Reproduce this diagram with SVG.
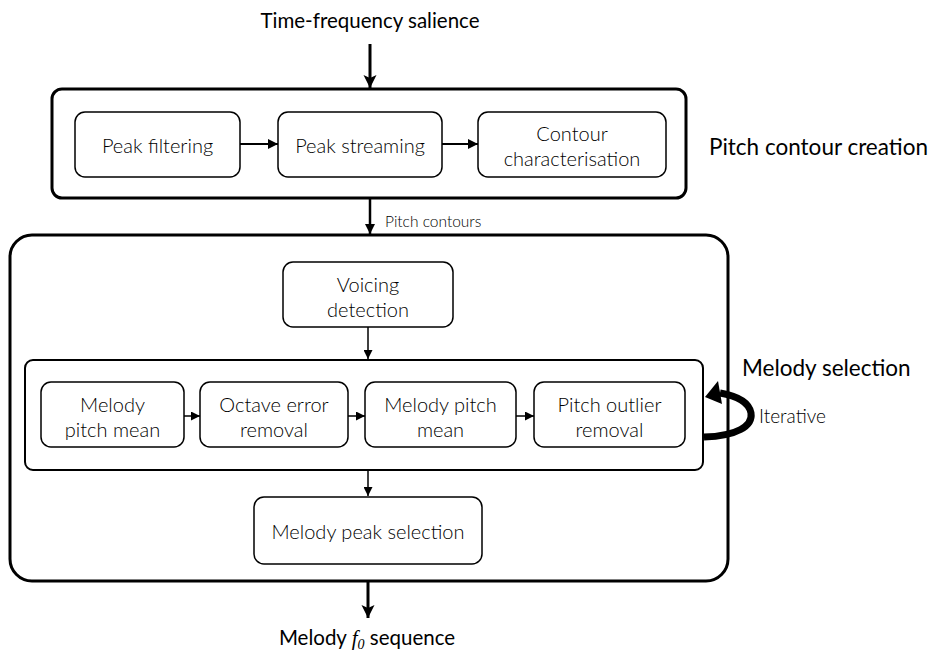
<svg xmlns="http://www.w3.org/2000/svg" width="944" height="651" viewBox="0 0 944 651">
<style>
.container{fill:#fff;stroke:#000;stroke-width:3}
.inner{fill:#fff;stroke:#000;stroke-width:2}
.box{fill:#fff;stroke:#000;stroke-width:1.5}
.t{font-family:Lato,"Open Sans","Liberation Sans",sans-serif;font-weight:300;font-size:20px;fill:#000;text-anchor:middle}
.h{font-family:Lato,"Open Sans","Liberation Sans",sans-serif;font-weight:400;font-size:22.5px;fill:#000}
.hm{font-family:Lato,"Open Sans","Liberation Sans",sans-serif;font-weight:400;font-size:20.5px;fill:#000;text-anchor:middle}
.small{font-family:Lato,"Open Sans","Liberation Sans",sans-serif;font-weight:300;font-size:15.5px;fill:#000}
.c{fill:none;stroke:#000}
</style>
<defs>
<marker id="ah" markerUnits="userSpaceOnUse" markerWidth="10" markerHeight="10" refX="10" refY="5" orient="auto">
<path d="M0,0 L10,5 L0,10 z" fill="#000"/>
</marker>
<marker id="ahs" markerUnits="userSpaceOnUse" markerWidth="9" markerHeight="9" refX="9" refY="4.5" orient="auto">
<path d="M0,0 L9,4.5 L0,9 z" fill="#000"/>
</marker>
<marker id="ahb" markerUnits="userSpaceOnUse" markerWidth="14" markerHeight="14" refX="13" refY="7" orient="auto">
<path d="M0,0.5 L13,7 L0,13.5 L3,7 z" fill="#000"/>
</marker>
</defs>

<g id="label-input"><text class="hm" x="370" y="28">Time-frequency salience</text></g>

<g id="pitch-contour-creation">
<rect class="container" x="52" y="89" width="634" height="109" rx="10"/>
<text class="h" x="709" y="155">Pitch contour creation</text>
</g>
<g id="peak-filtering"><rect class="box" x="75" y="112" width="165" height="65" rx="10"/><text class="t" x="157.5" y="153">Peak filtering</text></g>
<g id="peak-streaming"><rect class="box" x="278" y="112" width="164" height="65" rx="10"/><text class="t" x="360" y="153">Peak streaming</text></g>
<g id="contour-characterisation"><rect class="box" x="478" y="112" width="188" height="65" rx="10"/><text class="t" x="572" y="141">Contour</text><text class="t" x="572" y="166">characterisation</text></g>

<g id="melody-selection">
<rect class="container" x="10" y="235" width="718" height="346" rx="22"/>
<text class="h" x="742" y="376">Melody selection</text>
</g>
<g id="voicing-detection"><rect class="box" x="283" y="262" width="170" height="65" rx="10"/><text class="t" x="368" y="292">Voicing</text><text class="t" x="368" y="317">detection</text></g>
<g id="iterative-block"><rect class="inner" x="25" y="360" width="678" height="110" rx="8"/></g>
<g id="melody-pitch-mean-1"><rect class="box" x="41" y="382" width="143" height="65" rx="10"/><text class="t" x="112.5" y="412">Melody</text><text class="t" x="112.5" y="437">pitch mean</text></g>
<g id="octave-error-removal"><rect class="box" x="200" y="382" width="148" height="65" rx="10"/><text class="t" x="274" y="412">Octave error</text><text class="t" x="274" y="437">removal</text></g>
<g id="melody-pitch-mean-2"><rect class="box" x="365" y="382" width="151" height="65" rx="10"/><text class="t" x="440.5" y="412">Melody pitch</text><text class="t" x="440.5" y="437">mean</text></g>
<g id="pitch-outlier-removal"><rect class="box" x="534" y="382" width="151" height="65" rx="10"/><text class="t" x="609.5" y="412">Pitch outlier</text><text class="t" x="609.5" y="437">removal</text></g>
<g id="melody-peak-selection"><rect class="box" x="254" y="497" width="228" height="67" rx="10"/><text class="t" x="368" y="539">Melody peak selection</text></g>

<g id="label-output"><text class="hm" x="367" y="645">Melody <tspan font-family="'Liberation Serif',serif" font-style="italic" font-weight="400" font-size="21">f</tspan><tspan font-family="'Liberation Serif',serif" font-style="italic" font-weight="400" font-size="14" dy="4">0</tspan><tspan dy="-4"> sequence</tspan></text></g>

<g id="connectors">
<line class="c" x1="370" y1="44" x2="370" y2="88" stroke-width="3" marker-end="url(#ahb)"/>
<line class="c" x1="240" y1="144" x2="278" y2="144" stroke-width="2" marker-end="url(#ah)"/>
<line class="c" x1="442" y1="144" x2="478" y2="144" stroke-width="2" marker-end="url(#ah)"/>
<line class="c" x1="370" y1="198" x2="370" y2="234" stroke-width="2.5" marker-end="url(#ah)"/>
<text class="small" x="385" y="227">Pitch contours</text>
<line class="c" x1="368" y1="327" x2="368" y2="359" stroke-width="1.5" marker-end="url(#ahs)"/>
<line class="c" x1="184" y1="416" x2="200" y2="416" stroke-width="1.5" marker-end="url(#ahs)"/>
<line class="c" x1="348" y1="416" x2="365" y2="416" stroke-width="1.5" marker-end="url(#ahs)"/>
<line class="c" x1="516" y1="416" x2="534" y2="416" stroke-width="1.5" marker-end="url(#ahs)"/>
<line class="c" x1="368" y1="470" x2="368" y2="496" stroke-width="1.5" marker-end="url(#ahs)"/>
<line class="c" x1="368" y1="581" x2="368" y2="618" stroke-width="3" marker-end="url(#ahb)"/>
<path class="c" d="M704,437 C737,436 753,426 751,413 C749,402 737,396 720,393" stroke-width="7"/>
<path d="M705,397 L718,381 L722,404 z" fill="#000"/>
<text x="759" y="423" font-family="Lato,'Open Sans','Liberation Sans',sans-serif" font-weight="300" font-size="19" fill="#000">Iterative</text>
</g>
</svg>
